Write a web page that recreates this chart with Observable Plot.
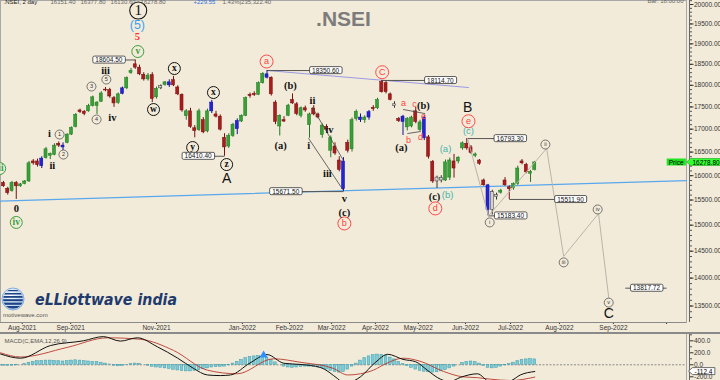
<!DOCTYPE html>
<html><head><meta charset="utf-8">
<script src="https://cdn.jsdelivr.net/npm/d3@7"></script>
<script src="https://cdn.jsdelivr.net/npm/@observablehq/plot@0.6"></script>
<style>
html,body{margin:0;padding:0;background:#f3ebd9;}
#wrap{position:relative;width:720px;height:380px;overflow:hidden;background:#f3ebd9;font-family:"Liberation Sans",Arial,sans-serif;}
#price{position:absolute;left:0;top:0;}
#macd{position:absolute;left:0;top:334px;}
#divider{position:absolute;left:0;top:332px;width:720px;height:2px;background:#8a8a8a;}
#logo{position:absolute;left:0;top:284px;}
</style></head><body>
<div id="wrap">
<div id="price"></div>
<div id="divider"></div>
<div id="macd"></div>
<svg id="logo" width="200" height="40" viewBox="0 0 200 40">
 <defs>
  <clipPath id="gc"><circle cx="13" cy="15" r="10"/></clipPath>
  <radialGradient id="gg" cx="40%" cy="35%" r="70%"><stop offset="0" stop-color="#ffffff"/><stop offset="1" stop-color="#a8c6ea"/></radialGradient>
 </defs>
 <circle cx="13" cy="15" r="11" fill="url(#gg)" stroke="#86aedc" stroke-width="1"/>
 <g clip-path="url(#gc)" fill="#1c4384">
  <rect x="0" y="6" width="26" height="1.2"/>
  <rect x="0" y="9" width="26" height="1.5"/>
  <rect x="0" y="12" width="26" height="1.8"/>
  <rect x="0" y="15.2" width="26" height="2"/>
  <rect x="0" y="18.6" width="26" height="2.2"/>
  <rect x="0" y="22" width="26" height="2.6"/>
 </g>
 <text x="35" y="21" font-family="DejaVu Sans" font-weight="bold" font-style="italic" font-size="15" fill="#1f3a6c" textLength="142" lengthAdjust="spacingAndGlyphs">eLLiottwave india</text>
 <text x="3" y="33" font-family="Liberation Sans" font-size="6" fill="#555">motivewave.com</text>
</svg>
</div>
<script>
// ---------- DATA ----------
// 2-day candles, [open, high, low, close]
const candles = [
[15850,15880,15760,15780],[15730,15760,15600,15640],[15680,15880,15660,15850],[15850,15880,15513.6,15780],
[15780,15840,15760,15820],[15830,15900,15810,15880],[15880,16300,15860,16260],[16300,16340,16220,16260],
[16300,16350,16180,16220],[16200,16400,16150,16360],[16370,16600,16350,16560],[16420,16480,16340,16460],
[16440,16680,16420,16640],[16680,16720,16600,16640],[16640,16700,16520,16600],[16700,16900,16680,16880],
[16880,17050,16860,17030],[17050,17350,17030,17320],[17420,17450,17350,17380],[17390,17420,17300,17340],
[17400,17560,17380,17520],[17520,17750,17500,17720],[17520,17620,17330,17600],[17620,17850,17600,17810],
[17900,17950,17850,17880],[17890,17930,17700,17740],[17700,17740,17490,17580],[17590,17820,17560,17790],
[17800,17960,17780,17930],[17930,18200,17900,18170],[18290,18400,18260,18340],[18500,18604.5,18380,18420],
[18420,18480,18230,18260],[18250,18300,18100,18140],[18140,18280,18100,18230],[18240,18300,17600,17680],
[17720,17960,17680,17920],[17930,18010,17900,17980],[18010,18090,17980,18070],[18070,18130,17950,18000],
[18120,18210,17970,18000],[17950,17990,17760,17790],[17780,17800,17380,17420],[17290,17440,17200,17400],
[17400,17470,17020,17050],[17020,17080,16810,16960],[16980,17450,16950,17400],[17200,17260,16900,16930],
[16950,17450,16920,17400],[17400,17650,17350,17600],[17330,17400,17250,17280],[17280,17320,16960,16990],
[16810,16900,16410.4,16600],[16620,16900,16580,16850],[16850,17130,16820,17100],[17000,17230,16880,17180],
[17170,17320,17150,17300],[17300,17730,17280,17700],[17780,17820,17700,17750],[17800,17850,17740,17770],
[17780,18080,17760,18050],[18050,18300,18030,18270],[18260,18350.6,18150,18180],[18180,18200,17750,17790],
[17600,17640,17100,17160],[17060,17320,16850,17300],[17200,17280,17150,17170],[17300,17560,17280,17530],
[17660,17800,17560,17580],[17560,17600,17300,17340],[17300,17500,17250,17470],[17470,17520,17380,17420],
[17090,17360,16800,17330],[17460,17530,17300,17330],[17330,17360,17230,17260],[16870,17120,16800,17080],
[17050,17100,16960,16990],[16530,16850,16380,16800],[16620,16700,16430,16470],[16320,16400,16080,16120],
[16300,16380,15671.5,15720],[16700,16760,16480,16530],[16560,17250,16500,17200],[17230,17430,17180,17390],
[17260,17340,17150,17200],[17200,17300,17130,17260],[17260,17420,17200,17380],[17480,17530,17400,17450],
[17470,17700,17440,17660],[18080,18114.7,17820,17840],[18050,18090,17800,17840],[17790,17820,17640,17660],
[17560,17620,17470,17520],[17230,17260,17150,17180],[17160,17310,16860,17280],[17040,17260,16960,17230],
[17060,17290,17030,17260],[17400,17490,17120,17160],[16980,17200,16950,17150],[17250,17300,16750,16800],
[16820,16860,16350,16400],[16290,16320,15840,15880],[15880,15990,15735.8,15960],[15950,16000,15850,15900],
[15900,16330,15880,16280],[15960,16370,15900,16320],[16300,16450,15950,16150],[16300,16400,16250,16380],
[16580,16720,16540,16690],[16680,16793.3,16540,16580],[16600,16640,16450,16480],[16420,16480,16380,16450],
[16320,16340,16220,16250],[15900,15930,15780,15800],[15800,15820,15183.4,15300],[15300,15700,15200,15660],
[15600,15640,15500,15560],[15650,15720,15620,15690],[15900,15960,15780,15800],[15760,15790,15511.9,15720],
[15740,15850,15700,15830],[15830,16200,15800,16150],[16300,16340,16230,16260],[16230,16260,16040,16070],
[16040,16110,15860,16080],[16120,16300,16100,16278.8]
];
const blueBars = [9,14,28,39,49,55,62,80,84,86,94,99,114];
const grayBars = [37,92,102,103,115,116];

// MACD histogram per bar
const macdHist = [
-15,-20,-15,-10,0,15,35,50,60,65,70,70,65,60,55,60,70,75,70,60,55,50,45,35,20,5,-15,-25,-20,-5,
10,20,15,0,-15,-35,-45,-50,-60,-70,-85,-95,-105,-110,-110,-100,-90,-75,-60,-45,-40,-35,-30,-10,20,50,80,110,130,140,
145,140,120,80,40,0,-30,-45,-50,-45,-35,-30,-30,-35,-45,-60,-80,-100,-120,-130,-120,-80,-30,20,70,110,140,160,170,165,
150,120,90,50,10,-20,-50,-80,-100,-115,-125,-130,-125,-110,-90,-60,-30,0,30,50,55,45,20,-20,-50,-60,-50,-30,-10,10,
35,60,80,90,95,90
];
// MACD and signal lines read at points [bar, value]
const macdLine = [[-0.7,180],[4,110],[11,320],[18.8,400],[23.5,470],[27.5,395],[31.5,450],[36.2,300],[41,110],[44.7,-60],[48,-170],[51,-180],[53.4,-170],[58,30],[62,170],[66,25],[70,5],[74.6,-45],[78.6,-230],[80.5,-330],[82.4,-270],[84,-200],[87.5,40],[90.4,175],[94,90],[97,50],[99.8,-95],[102.8,-240],[105,-280],[107.5,-210],[111.5,-150],[114.5,-290],[117,-300],[119.3,-270],[121.6,-170],[125,-112.4]];
const signalLine = [[-0.7,200],[4,130],[15,290],[24.5,450],[32.2,425],[40,240],[48,-90],[55,-150],[63.5,100],[70,40],[77.6,-60],[81,-170],[84,-150],[87,-90],[90,20],[94,110],[98,60],[103.5,-110],[108,-200],[111.5,-215],[114.6,-240],[119.3,-262],[125,-205]];
const macdLast = -112.4;

const priceTicks = [13500,14000,14500,15000,15500,16000,16500,17000,17500,18000,18500,19000,19500,20000];
const macdTicks = [400,200,0,-200];
const monthLabels = ["Aug-2021","Sep-2021","Nov-2021","Jan-2022","Feb-2022","Mar-2022","Apr-2022","May-2022","Jun-2022","Jul-2022","Aug-2022","Sep-2022",""];
const monthPos = [4.4,15.8,36,56.2,67.3,77.2,87.5,97.6,108.7,119.3,130.8,143.5,156];

// price level boxes: text, leader from bar x1 to x2, box at bar bi
const levels = [
 {t:"18604.50", x1:31, x2:24.8, bi:24.8, p:18604.5},
 {t:"16410.40", x1:52, x2:45.8, bi:45.8, p:16410.4},
 {t:"18350.60", x1:62, x2:75.8, bi:75.8, p:18350.6},
 {t:"15671.50", x1:80, x2:66.4, bi:66.4, p:15671.5},
 {t:"18114.70", x1:89, x2:102.8, bi:102.8, p:18114.7},
 {t:"16793.30", x1:109, x2:119.2, bi:119.2, p:16793.3},
 {t:"15183.40", x1:114, x2:119.3, bi:119.3, p:15183.4},
 {t:"15511.90", x1:119, x2:133.4, bi:133.4, p:15511.9},
 {t:"13817.72", x1:146.3, x2:156, bi:151.3, p:13817.72}
];

// Elliott wave labels: text, bar, price, style
const waveLabels = [
 ["1",31.7,19844,"big1"],["(5)",31.5,19485,"blu5"],["5",31.5,19183,"red5"],["v",31.6,18811,"grn"],
 ["iii",24,18351,"rom"],["5",24.2,18137,"sub"],["3",20.7,17972,"sub"],["4",21.9,17216,"sub"],["iv",25.6,17261,"rom"],
 ["i",10.8,16904,"rom"],["1",13.2,16882,"sub"],["ii",11.5,16212,"rom"],["2",14.1,16447,"sub"],
 ["0",3,15331,"rom"],["iv",3,15054,"grn"],["iii",-0.9,16150,"grn"],
 ["w",35.3,17441,"circ"],["x",40.2,18399,"circ"],["y",44.5,16598,"circ"],["x",49.4,17832,"circ"],["z",52.5,16234,"circ"],
 ["A",52.5,15941,"cap"],["a",61.9,18568,"redc"],["(b)",67.5,17996,"rom"],["(a)",65.2,16641,"rom"],
 ["ii",72.7,17647,"rom"],["i",71.8,16641,"rom"],["iv",76.7,16992,"rom"],["iii",76.2,16045,"rom"],["v",80.2,15530,"rom"],
 ["(c)",80.2,15248,"rom"],["b",80.2,15034,"redc"],["C",89.1,18310,"redc"],
 ["a",94.1,17578,"redl"],["c",96.7,17555,"redl"],["(b)",98.8,17533,"rom"],["e",98.8,17283,"redl"],["b",95.3,16750,"redl"],
 ["d",98.1,16816,"redl"],["(a)",93.6,16604,"rom"],
 ["B",109.2,17486,"cap"],["e",109.4,17177,"redc"],["(c)",109.4,16970,"cyan"],["(a)",104,16577,"cyan"],
 ["(c)",101.4,15571,"rom"],["(b)",104.5,15612,"cyan"],["d",101.6,15331,"redc"],
 ["i",114.4,15054,"sub"],["ii",127.5,16663,"sub"],["iii",131.8,14290,"sub"],["iv",139.8,15311,"sub"],["v",142.4,13560,"sub"],
 ["C",142.4,13367,"cap"]
];
// projected wave path and drawn lines [bar, price]
const projection = [[109.2,16793.3],[114.1,15183.4],[127.8,16577],[131.8,14403],[140,15229],[142.4,13650]];
const baseTrend = [[-0.7,15480],[160.7,15899]];
const upperTrend = [[62.1,18350.6],[109.4,17949]];
const channelA = [[71.8,16794],[80,15693]];
const channelB = [[72.7,17486],[80,16319]];
const triUpper = [[94.1,17441],[99.1,17351]];
const triLower = [[95.1,16904],[98.1,16948]];

// ---------- CHART ----------
const BG = "#f3ebd9";
const xDomain = [-0.706, 160.7];
const xRange = [0, 686];
const rows = candles.map((c, i) => ({i, o:c[0], h:c[1], l:c[2], c:c[3],
  kind: blueBars.includes(i) ? "blue" : grayBars.includes(i) ? "gray" : (c[3] >= c[0] ? "up" : "down")}));
const fillOf = {up:"#37a137", down:"#a91c1c", blue:"#2323d8", gray:"#d2d2d2"};
const edgeOf = {up:"#237823", down:"#781010", blue:"#12129a", gray:"#333"};
const W = waveLabels.map(([t,i,p,s]) => ({t,i,p,s}));
const ws = s => W.filter(d => d.s === s);
const last = rows[rows.length - 1];
const SERIF = "Liberation Serif, DejaVu Serif, serif";
const SANS = "Liberation Sans, Arial, sans-serif";
const lineOpts = (stroke, sw) => ({x: d => d[0], y: d => d[1], stroke, strokeWidth: sw});

const priceSvg = Plot.plot({
  width: 720, height: 333, marginLeft: 0, marginRight: 34, marginTop: 0, marginBottom: 11,
  style: {background: BG, fontFamily: SANS, overflow: "hidden"},
  x: {type: "linear", domain: xDomain, range: xRange, axis: null, label: null},
  y: {type: "log", domain: [13213, 20105], range: [322, 0], axis: null, label: null},
  marks: [
    Plot.frame({stroke: "#a8a8a8"}),
    Plot.ruleX([xDomain[1]], {dx: 3, stroke: "#666", strokeWidth: 1}),
    Plot.axisY({anchor: "right", ticks: d3.range(13300, 20101, 100), tickFormat: () => "", tickSize: 2, dx: 3, color: "#555", label: null}),
    Plot.axisY({anchor: "right", ticks: priceTicks, tickFormat: d => d.toFixed(2), tickSize: 3.5, tickPadding: 1, dx: 3, fontSize: 6.5, color: "#333", label: null}),
    Plot.axisX({anchor: "bottom", ticks: monthPos, tickFormat: d => monthLabels[monthPos.indexOf(d)], tickSize: 2, tickPadding: 0.5, fontSize: 6.5, color: "#333", label: null}),
    Plot.ruleY([13213], {stroke: "#8a8a8a"}),
    Plot.line(baseTrend, lineOpts("#58a8ee", 1.2)),
    Plot.line(upperTrend, lineOpts("#9a9ae6", 1)),
    Plot.link(levels, {x1: "x1", x2: "x2", y1: "p", y2: "p", stroke: "#555", strokeWidth: 1}),
    Plot.ruleX(rows, {x: "i", y1: "l", y2: "h", stroke: d => edgeOf[d.kind], strokeWidth: 1}),
    Plot.rect(rows, {x1: d => d.i - 0.36, x2: d => d.i + 0.36, y1: "o", y2: d => Math.abs(d.c - d.o) < 8 ? d.o + 10 : d.c,
      fill: d => fillOf[d.kind], stroke: d => edgeOf[d.kind], strokeWidth: 0.5}),
    Plot.line(channelA, lineOpts("#444", 0.8)),
    Plot.line(channelB, lineOpts("#444", 0.8)),
    Plot.line(triUpper, lineOpts("#444", 0.8)),
    Plot.line(triLower, lineOpts("#444", 0.8)),
    Plot.line(projection, lineOpts("#b9b4aa", 1)),
    // circled labels
    Plot.dot(ws("big1"), {x: "i", y: "p", r: 8.5, stroke: "#111", strokeWidth: 1.1, fill: BG}),
    Plot.dot(ws("circ"), {x: "i", y: "p", r: 6, stroke: "#111", strokeWidth: 1, fill: BG}),
    Plot.dot(ws("sub"), {x: "i", y: "p", r: 4.5, stroke: "#555", strokeWidth: 0.8, fill: BG}),
    Plot.dot(ws("grn"), {x: "i", y: "p", r: 6, stroke: "#3a9e3a", strokeWidth: 1, fill: BG}),
    Plot.dot(ws("redc"), {x: "i", y: "p", r: 6.5, stroke: "#ff4a4a", strokeWidth: 1, fill: BG}),
    Plot.text(ws("big1"), {x: "i", y: "p", text: "t", fontSize: 15, fontFamily: SERIF, fill: "#111"}),
    Plot.text(ws("circ"), {x: "i", y: "p", text: "t", fontSize: 9.5, fontFamily: SERIF, fontWeight: "bold", fill: "#111", dy: -0.5}),
    Plot.text(ws("sub"), {x: "i", y: "p", text: "t", fontSize: 5.5, fontFamily: SANS, fill: "#333"}),
    Plot.text(ws("grn"), {x: "i", y: "p", text: "t", fontSize: 9.5, fontFamily: SERIF, fontWeight: "bold", fill: "#3a9e3a", dy: -0.5}),
    Plot.text(ws("redc"), {x: "i", y: "p", text: "t", fontSize: 9, fontFamily: SANS, fill: "#ff4040"}),
    Plot.text(ws("rom"), {x: "i", y: "p", text: "t", fontSize: 10.5, fontFamily: SERIF, fontWeight: "bold", fill: "#111"}),
    Plot.text(ws("cap"), {x: "i", y: "p", text: "t", fontSize: 14, fontFamily: SANS, fill: "#111"}),
    Plot.text(ws("blu5"), {x: "i", y: "p", text: "t", fontSize: 12.5, fontFamily: SANS, fill: "#3aa2f2"}),
    Plot.text(ws("red5"), {x: "i", y: "p", text: "t", fontSize: 10.5, fontFamily: SERIF, fontWeight: "bold", fill: "#ff3030"}),
    Plot.text(ws("redl"), {x: "i", y: "p", text: "t", fontSize: 9, fontFamily: SANS, fill: "#ff4444"}),
    Plot.text(ws("cyan"), {x: "i", y: "p", text: "t", fontSize: 9.5, fontFamily: SANS, fill: "#45b3aa"}),
    // level boxes
    Plot.text(levels, {x: "bi", y: "p", text: "t", fontSize: 6.5, fontFamily: SANS, fill: "#111"}),
    // price tag
    Plot.text([last], {x: () => xDomain[1], y: "c", text: () => "Price", dx: -3, textAnchor: "end", fontSize: 6.5, fill: "#000"}),
    Plot.text([last], {x: () => xDomain[1], y: "c", text: d => d.c.toFixed(2), dx: 6, textAnchor: "start", fontSize: 6.5, fill: "#000"}),
    // headers
    Plot.text([".NSEI"], {frameAnchor: "top", text: d => d, dy: 10.5, fontSize: 21, fontWeight: "bold", fill: "#7c7c7c"}),
    Plot.text([".NSEI, 2 day"], {frameAnchor: "top-left", text: d => d, dx: 3, dy: 3, lineAnchor: "bottom", fontSize: 6, fill: "#222"}),
    Plot.text(["16151.40   16377.80   16130.60   16278.80"], {frameAnchor: "top-left", text: d => d, dx: 50, dy: 3, lineAnchor: "bottom", fontSize: 6, fill: "#666"}),
    Plot.text(["+229.55"], {frameAnchor: "top-left", text: d => d, dx: 193, dy: 3, lineAnchor: "bottom", fontSize: 6, fill: "#2a6fe0"}),
    Plot.text(["1.43%|235,322.40"], {frameAnchor: "top-left", text: d => d, dx: 222, dy: 3, lineAnchor: "bottom", fontSize: 6, fill: "#666"}),
    Plot.text(["Bar: 18:00:00"], {frameAnchor: "top-right", text: d => d, dx: -3, dy: 2.5, lineAnchor: "bottom", fontSize: 6, fill: "#666"})
  ]
});
document.getElementById("price").appendChild(priceSvg);

const macdSvg = Plot.plot({
  width: 720, height: 46, marginLeft: 0, marginRight: 34, marginTop: 0, marginBottom: 0,
  style: {background: BG, fontFamily: SANS, overflow: "hidden"},
  x: {type: "linear", domain: xDomain, range: xRange, axis: null, label: null},
  y: {type: "linear", domain: [-262, 505], range: [46, 0], axis: null, label: null},
  marks: [
    Plot.ruleX([xDomain[1]], {stroke: "#a8a8a8"}),
    Plot.ruleX([xDomain[1]], {dx: 3, stroke: "#666"}),
    Plot.axisY({anchor: "right", ticks: [500,300,100,-100], tickFormat: () => "", tickSize: 2, dx: 3, color: "#555", label: null}),
    Plot.axisY({anchor: "right", ticks: macdTicks, tickFormat: d => d.toFixed(1), tickSize: 3.5, tickPadding: 1, dx: 3, fontSize: 6.5, color: "#333", label: null}),
    Plot.ruleY([0], {stroke: "#8a8a8a", strokeDasharray: "2,1.5"}),
    Plot.rect(macdHist.map((v, i) => ({i, v})), {x1: d => d.i - 0.32, x2: d => d.i + 0.32, y1: () => 0, y2: "v", fill: "#79cdd8", stroke: "#3d9aab", strokeWidth: 0.5}),
    Plot.line(signalLine, {x: d => d[0], y: d => d[1], stroke: "#b8392e", strokeWidth: 0.9, curve: "monotone-x"}),
    Plot.line(macdLine, {x: d => d[0], y: d => d[1], stroke: "#111", strokeWidth: 1, curve: "monotone-x"}),
    Plot.dot([[61.2, 160]], {x: d => d[0], y: d => d[1], symbol: "triangle", r: 3, fill: "#2f8fff"}),
    Plot.text(["MACD(C,EMA,12,26,9)"], {frameAnchor: "top-left", text: d => d, dx: 4, dy: 4, lineAnchor: "top", fontSize: 6, fill: "#555"}),
    Plot.text([macdLast], {x: () => xDomain[1], y: d => d, text: d => d.toFixed(1), dx: 8, textAnchor: "start", fontSize: 6.5, fill: "#000"})
  ]
});
document.getElementById("macd").appendChild(macdSvg);

// boxes behind labels, sized from the rendered text (matched by content)
const NS = "http://www.w3.org/2000/svg";
function boxify(svg, texts, o) {
  const want = new Set(texts);
  svg.querySelectorAll("text").forEach(t => {
    if (!want.has(t.textContent.trim())) return;
    const b = t.getBBox();
    const x0 = b.x - o.px, x1 = b.x + b.width + o.px, y0 = b.y - o.py, y1 = b.y + b.height + o.py, cy = (y0 + y1) / 2;
    const el = document.createElementNS(NS, "path");
    const r = o.rx || 0;
    el.setAttribute("d", o.pointer
      ? `M${x0 - o.pointer},${cy}L${x0},${y0}H${x1}V${y1}H${x0}Z`
      : `M${x0 + r},${y0}H${x1 - r}Q${x1},${y0} ${x1},${y0 + r}V${y1 - r}Q${x1},${y1} ${x1 - r},${y1}H${x0 + r}Q${x0},${y1} ${x0},${y1 - r}V${y0 + r}Q${x0},${y0} ${x0 + r},${y0}Z`);
    el.setAttribute("fill", o.fill);
    el.setAttribute("stroke", o.stroke || "none");
    el.setAttribute("stroke-width", o.sw || 0.8);
    const tr = t.getAttribute("transform");
    if (tr) el.setAttribute("transform", tr);
    t.parentNode.insertBefore(el, t);
  });
}
boxify(priceSvg, levels.map(d => d.t), {px: 2.5, py: 0, fill: "#fff", stroke: "#333", sw: 0.8, rx: 1.5});
boxify(priceSvg, ["Price"], {px: 2, py: 0, fill: "#22e322"});
boxify(priceSvg, [last.c.toFixed(2)], {px: 2, py: 0, fill: "#33ff33", stroke: "#18a018", sw: 0.6, pointer: 4});
boxify(macdSvg, [macdLast.toFixed(1)], {px: 2, py: 0, fill: "#fff", stroke: "#333", sw: 0.7, pointer: 4});
</script>
</body></html>
